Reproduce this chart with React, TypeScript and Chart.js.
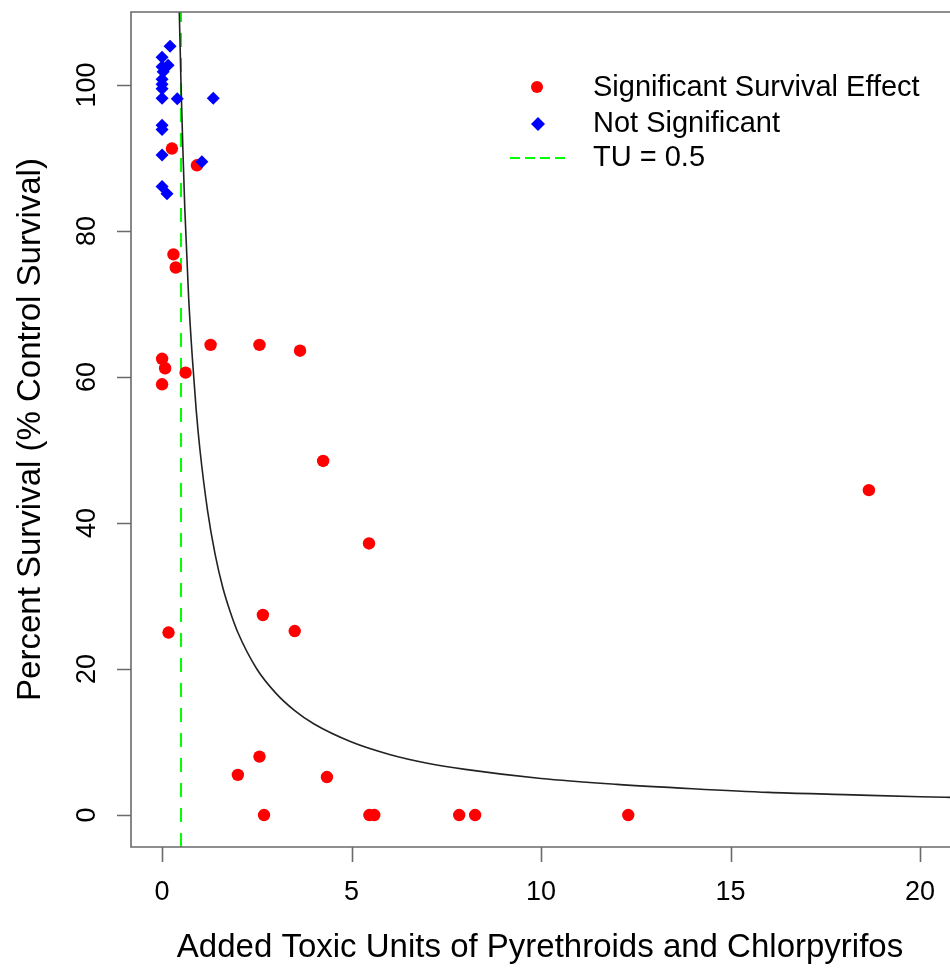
import React, { useEffect, useRef } from "react";
import { Chart, registerables } from "chart.js";

Chart.register(...registerables);

// ---- data ----
const sigX = [0.26, 0.92, 0.30, 0.36, 1.28, 2.57, 3.64, 0.0, 0.08, 0.62, 0.0, 4.25, 5.46, 18.65, 0.17, 2.66, 3.5, 2.0, 2.57, 4.35, 2.69, 5.47, 5.6, 7.84, 8.26, 12.3];
const sigY = [91.3, 89.0, 76.8, 75.0, 64.4, 64.4, 63.6, 62.5, 61.2, 60.6, 59.0, 48.5, 37.2, 44.5, 25.0, 27.4, 25.2, 5.5, 8.0, 5.2, 0, 0, 0, 0, 0, 0];

const notX = [0.21, 0.0, 0.16, 0.0, 0.03, 0.0, 0.0, 0.0, 0.0, 0.4, 1.35, 0.0, 0.0, 0.0, 1.05, 0.0, 0.13];
const notY = [105.3, 103.8, 102.7, 102.5, 101.8, 100.8, 100.1, 99.5, 98.2, 98.1, 98.2, 94.5, 93.9, 90.4, 89.5, 86.1, 85.1];

const curveX = [0.45, 0.5, 0.55, 0.6, 0.7, 0.8, 0.9, 1.0, 1.2, 1.4, 1.6, 1.8, 2.0, 2.5, 3.0, 3.5, 4.0, 5.0, 6.0, 7.0, 8.0, 10.0, 12.0, 14.0, 16.0, 18.0, 20.0, 21.0];
const curveY = [111, 100, 91, 83, 71, 62.5, 55.5, 50, 41.7, 35.7, 31.2, 27.8, 25, 20, 16.7, 14.3, 12.5, 10, 8.3, 7.1, 6.25, 5, 4.2, 3.6, 3.1, 2.8, 2.5, 2.4];

const TU = 0.5;

const xTicks = [0, 5, 10, 15, 20];
const yTicks = [0, 20, 40, 60, 80, 100];

const X_MIN = -0.82;
const X_MAX = 20.79;
const Y_MIN = -4.38;
const Y_MAX = 110;

const xTitle = "Added Toxic Units of Pyrethroids and Chlorpyrifos";
const yTitle = "Percent Survival (% Control Survival)";
const legendLabels = ["Significant Survival Effect", "Not Significant", "TU = 0.5"];

const FONT = '"Liberation Sans", Arial, Helvetica, sans-serif';

const rPlugin = {
  id: "rStyle",
  afterDraw(chart: any) {
    const { ctx, chartArea: a, scales } = chart;
    const xs = scales.x;
    const ys = scales.y;
    ctx.save();
    // box
    ctx.strokeStyle = "#6a6a6a";
    ctx.lineWidth = 1.6;
    ctx.beginPath();
    ctx.moveTo(a.right + 10, a.top);
    ctx.lineTo(a.left, a.top);
    ctx.lineTo(a.left, a.bottom);
    ctx.lineTo(a.right + 10, a.bottom);
    ctx.stroke();
    // ticks
    ctx.beginPath();
    xTicks.forEach((v) => {
      const px = Math.round(xs.getPixelForValue(v)) + 0.5;
      ctx.moveTo(px, a.bottom);
      ctx.lineTo(px, a.bottom + 15);
    });
    yTicks.forEach((v) => {
      const py = Math.round(ys.getPixelForValue(v)) + 0.5;
      ctx.moveTo(a.left, py);
      ctx.lineTo(a.left - 14, py);
    });
    ctx.stroke();

    ctx.fillStyle = "#000";
    ctx.font = `27px ${FONT}`;
    ctx.textAlign = "center";
    ctx.textBaseline = "middle";
    xTicks.forEach((v) => {
      ctx.fillText(String(v), xs.getPixelForValue(v), 893);
    });
    yTicks.forEach((v) => {
      ctx.save();
      ctx.translate(88, ys.getPixelForValue(v));
      ctx.rotate(-Math.PI / 2);
      ctx.fillText(String(v), 0, 0);
      ctx.restore();
    });
    // titles
    ctx.font = `33px ${FONT}`;
    ctx.fillText(xTitle, 540, 948);
    ctx.save();
    ctx.translate(31, (a.top + a.bottom) / 2);
    ctx.rotate(-Math.PI / 2);
    ctx.fillText(yTitle, 0, 0);
    ctx.restore();

    // legend
    const rows = [88, 124, 158];
    ctx.fillStyle = "#FF0000";
    ctx.beginPath();
    ctx.arc(537, rows[0] - 1, 6, 0, Math.PI * 2);
    ctx.fill();
    ctx.fillStyle = "#0000FF";
    ctx.beginPath();
    ctx.moveTo(538, rows[1] - 7);
    ctx.lineTo(545, rows[1]);
    ctx.lineTo(538, rows[1] + 7);
    ctx.lineTo(531, rows[1]);
    ctx.closePath();
    ctx.fill();
    ctx.strokeStyle = "#00FF00";
    ctx.lineWidth = 2;
    ctx.setLineDash([10, 5]);
    ctx.beginPath();
    ctx.moveTo(510, rows[2]);
    ctx.lineTo(566, rows[2]);
    ctx.stroke();
    ctx.setLineDash([]);
    ctx.fillStyle = "#000";
    ctx.textAlign = "left";
    ctx.font = `29px ${FONT}`;
    legendLabels.forEach((t, i) => ctx.fillText(t, 593, rows[i]));
    ctx.restore();
  },
};

export default function App() {
  const ref = useRef<HTMLCanvasElement | null>(null);
  useEffect(() => {
    if (!ref.current) return;
    const chart = new Chart(ref.current, {
      type: "scatter",
      data: {
        datasets: [
          {
            label: legendLabels[1],
            data: notX.map((x, i) => ({ x, y: notY[i] })),
            pointStyle: "rectRot",
            pointRadius: 6.5,
            pointBackgroundColor: "#0000FF",
            pointBorderWidth: 0,
            showLine: false,
            order: 1,
          },
          {
            label: legendLabels[0],
            data: sigX.map((x, i) => ({ x, y: sigY[i] })),
            pointStyle: "circle",
            pointRadius: 6.2,
            pointBackgroundColor: "#FF0000",
            pointBorderWidth: 0,
            showLine: false,
            order: 2,
          },
          {
            label: legendLabels[2],
            data: [
              { x: TU, y: Y_MIN },
              { x: TU, y: Y_MAX },
            ],
            showLine: true,
            borderColor: "#00FF00",
            borderWidth: 2,
            borderDash: [14, 11],
            pointRadius: 0,
            order: 4,
          },
          {
            label: "curve",
            data: curveX.map((x, i) => ({ x, y: curveY[i] })),
            showLine: true,
            borderColor: "#222222",
            borderWidth: 1.6,
            cubicInterpolationMode: "monotone",
            pointRadius: 0,
            order: 3,
          },
        ],
      },
      options: {
        animation: false,
        responsive: false,
        devicePixelRatio: 1,
        layout: { autoPadding: false, padding: { top: 12, left: 0, right: 0, bottom: 0 } },
        plugins: { legend: { display: false }, tooltip: { enabled: false } },
        scales: {
          x: {
            type: "linear",
            min: X_MIN,
            max: X_MAX,
            grid: { display: false },
            border: { display: false },
            ticks: { display: false },
            afterFit: (s: any) => {
              s.height = 121;
            },
          },
          y: {
            type: "linear",
            min: Y_MIN,
            max: Y_MAX,
            grid: { display: false },
            border: { display: false },
            ticks: { display: false },
            afterFit: (s: any) => {
              s.width = 131;
            },
          },
        },
      },
      plugins: [rPlugin],
    } as any);
    return () => chart.destroy();
  }, []);
  return (
    <div style={{ position: "absolute", left: 0, top: 0, width: 950, height: 968, background: "#fff" }}>
      <canvas ref={ref} width={950} height={968} style={{ display: "block" }} />
    </div>
  );
}
